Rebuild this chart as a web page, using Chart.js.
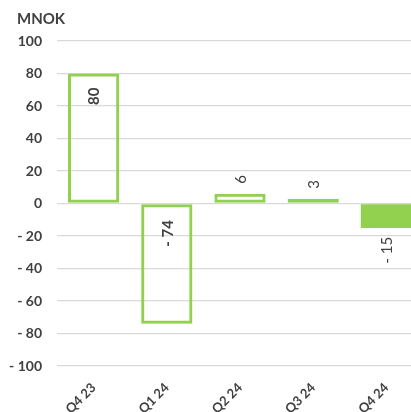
<!DOCTYPE html>
<html>
<head>
<meta charset="utf-8">
<script src="https://cdn.jsdelivr.net/npm/chart.js@4/dist/chart.umd.min.js"></script>
<style>
  html, body { margin: 0; padding: 0; background: #fff; overflow: hidden; }
  #wrap { position: absolute; left: 0; top: 0; }
</style>
</head>
<body>
<div id="wrap"><canvas id="c" width="430" height="412"></canvas></div>
<script>
// quarterly result, MNOK
const categories = ["Q4 23", "Q1 24", "Q2 24", "Q3 24", "Q4 24"];
const values = [80, -74, 6, 3, -15];
const filled = [false, false, false, false, true];
const yTicks = [100, 80, 60, 40, 20, 0, -20, -40, -60, -80, -100];

// where each value label sits relative to its bar
const labelAnchor = ["insideEnd", "insideBase", "outsideEnd", "outsideEnd", "outsideEnd"];

const GREEN = "#92d050";
const TEXT = "#404040";
const FONT = "Lato, 'Open Sans', sans-serif";

// Norwegian style minus: "- 74"
const fmt = (v) => (v < 0 ? "- " + Math.abs(v) : String(v));

const unitTitle = {
    id: "unitTitle",
    afterDraw(chart) {
        const ctx = chart.ctx;
        ctx.save();
        ctx.font = "bold 15px " + FONT;
        ctx.fillStyle = TEXT;
        ctx.textAlign = "left";
        ctx.textBaseline = "middle";
        ctx.fillText("MNOK", 17, 19);
        ctx.restore();
    },
};

const valueLabels = {
    id: "valueLabels",
    afterDatasetsDraw(chart) {
        const ctx = chart.ctx;
        const meta = chart.getDatasetMeta(0);
        ctx.save();
        ctx.fillStyle = TEXT;
        ctx.textBaseline = "middle";
        meta.data.forEach((bar, i) => {
            const v = values[i];
            const top = Math.min(bar.y, bar.base);
            const bottom = Math.max(bar.y, bar.base);
            const anchor = labelAnchor[i];
            let y, align;
            if (anchor === "insideEnd") {
                y = top + 14; align = "right";
            } else if (anchor === "insideBase") {
                y = bar.base + 16; align = "right";
            } else if (v >= 0) {
                y = top - 10; align = "left";
            } else {
                y = bottom + 9; align = "right";
            }
            ctx.font = (anchor.startsWith("inside") ? "bold " : "") + "15px " + FONT;
            ctx.save();
            ctx.translate(bar.x + 1, y);
            ctx.rotate(-Math.PI / 2);
            ctx.textAlign = align;
            ctx.fillText(fmt(v), 0, 0);
            ctx.restore();
        });
        ctx.restore();
    },
};

new Chart(document.getElementById("c"), {
    type: "bar",
    data: {
        labels: categories,
        datasets: [
            {
                data: values,
                backgroundColor: filled.map((f) => (f ? GREEN : "rgba(255,255,255,0)")),
                borderColor: GREEN,
                borderWidth: filled.map((f) => (f ? 0 : 3)),
                borderSkipped: false,
                categoryPercentage: 1,
                barPercentage: 0.7,
            },
        ],
    },
    options: {
        responsive: false,
        animation: false,
        layout: { padding: { top: 41, right: 7, left: 0, bottom: 0 } },
        plugins: {
            legend: { display: false },
            tooltip: { enabled: false },
        },
        scales: {
            x: {
                grid: { display: false },
                border: { display: false },
                ticks: {
                    minRotation: 45,
                    maxRotation: 45,
                    padding: 6,
                    color: TEXT,
                    font: { family: FONT, size: 13, weight: "bold" },
                },
                afterFit(scale) {
                    scale.height = 46;
                },
            },
            y: {
                min: -100,
                max: 100,
                afterBuildTicks(scale) {
                    scale.ticks = yTicks.map((v) => ({ value: v }));
                },
                grid: { color: "#d9d9d9", lineWidth: 1.3, drawTicks: false },
                border: { display: false },
                ticks: {
                    padding: 15,
                    color: TEXT,
                    font: { family: FONT, size: 14, weight: "bold" },
                    callback: (v) => fmt(v),
                },
                afterFit(scale) {
                    scale.width = 57;
                },
            },
        },
    },
    plugins: [unitTitle, valueLabels],
});
</script>
</body>
</html>
